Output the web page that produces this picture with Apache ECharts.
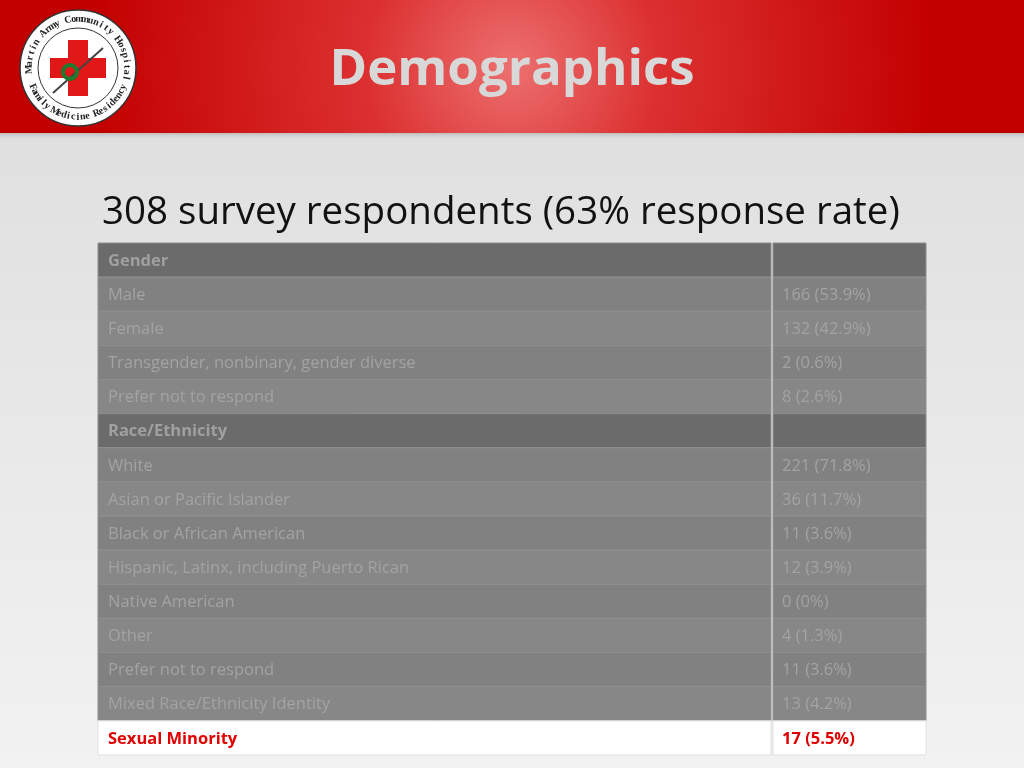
<!DOCTYPE html>
<html><head><meta charset="utf-8">
<script src="https://cdn.jsdelivr.net/npm/echarts@6/dist/echarts.min.js"></script>
<style>html,body{margin:0;padding:0;}#main{width:1024px;height:768px;}</style>
</head><body><div id="main"></div>
<script>
var title = 'Demographics';
var subtitle = '308 survey respondents (63% response rate)';
var sections = ['Gender', 'Race/Ethnicity'];
var genderLabels = ['Male', 'Female', 'Transgender, nonbinary, gender diverse', 'Prefer not to respond'];
var genderValues = ['166 (53.9%)', '132 (42.9%)', '2 (0.6%)', '8 (2.6%)'];
var raceLabels = ['White', 'Asian or Pacific Islander', 'Black or African American', 'Hispanic, Latinx, including Puerto Rican', 'Native American', 'Other', 'Prefer not to respond', 'Mixed Race/Ethnicity Identity'];
var raceValues = ['221 (71.8%)', '36 (11.7%)', '11 (3.6%)', '12 (3.9%)', '0 (0%)', '4 (1.3%)', '11 (3.6%)', '13 (4.2%)'];
var footLabel = 'Sexual Minority';
var footValue = '17 (5.5%)';

var chart = echarts.init(document.getElementById('main'));
var els = [];
// background
els.push({type:'rect', shape:{x:0,y:0,width:1024,height:768}, style:{fill:new echarts.graphic.LinearGradient(0,0,0,1,[{offset:0,color:'#dcdcdc'},{offset:1,color:'#f2f2f2'}])}});
els.push({type:'rect', shape:{x:0,y:130,width:1024,height:10}, style:{fill:new echarts.graphic.LinearGradient(0,0,0,1,[{offset:0,color:'#9a9a9a'},{offset:1,color:'rgba(220,220,220,0)'}])}});
els.push({type:'rect', shape:{x:0,y:0,width:1024,height:133}, style:{fill:new echarts.graphic.RadialGradient(512,66,420,[{offset:0,color:'#ec7070'},{offset:0.35,color:'#dc3030'},{offset:1,color:'#c30000'}],true)}});
els.push({type:'text', x:512, y:70, style:{text:title, fill:'#d8d8d8', font:'bold 51px "Open Sans"', align:'center', verticalAlign:'middle'}});
// logo
var cx = 78, cy = 68;
els.push({type:'circle', shape:{cx:cx,cy:cy,r:58}, style:{fill:'#fff', stroke:'#333', lineWidth:1.5}});
els.push({type:'circle', shape:{cx:cx,cy:cy,r:40}, style:{fill:'#fff', stroke:'#333', lineWidth:1}});
els.push({type:'rect', shape:{x:cx-10,y:cy-28,width:20,height:56}, style:{fill:'#e01818'}});
els.push({type:'rect', shape:{x:cx-28,y:cy-10,width:56,height:20}, style:{fill:'#e01818'}});
els.push({type:'line', shape:{x1:cx-25,y1:cy+25,x2:cx+25,y2:cy-20}, style:{stroke:'#444', lineWidth:2}});
els.push({type:'circle', shape:{cx:cx-8,cy:cy+4,r:7}, style:{fill:'none', stroke:'#1f7a2e', lineWidth:4}});
function arcText(str, r, a0, a1, top) {
  for (var i = 0; i < str.length; i++) {
    var a = a0 + (a1 - a0) * (i + 0.5) / str.length;
    var rad = a * Math.PI / 180;
    els.push({type:'text', x:cx + r*Math.cos(rad), y:cy + r*Math.sin(rad), rotation:-(a + (top ? 90 : -90)) * Math.PI / 180,
      style:{text:str[i], fill:'#222', font:'bold 10px "Liberation Serif"', align:'center', verticalAlign:'middle'}});
  }
}
arcText('Martin Army Community Hospital', 49, 175, 375, true);
arcText('Family Medicine Residency', 49, 160, 20, false);

els.push({type:'text', x:102, y:213, style:{text:subtitle, fill:'#111', font:'38.5px "Open Sans"', verticalAlign:'middle'}});

// table
var left = 98, right = 926, split = 771, top0 = 243, rh = 34.13;
var rows = [{h:true, l:sections[0], v:''}];
genderLabels.forEach(function(l, i){ rows.push({l:l, v:genderValues[i]}); });
rows.push({h:true, l:sections[1], v:''});
raceLabels.forEach(function(l, i){ rows.push({l:l, v:raceValues[i]}); });
rows.push({f:true, l:footLabel, v:footValue});
var k = 0;
rows.forEach(function(r, i) {
  var y = top0 + i * rh;
  var fill = r.h ? '#6b6b6b' : r.f ? '#ffffff' : (k++ % 2 ? '#878787' : '#818181');
  els.push({type:'rect', shape:{x:left,y:y,width:split-left,height:rh}, style:{fill:fill, stroke:r.f ? '#e0e0e0' : '#8f8f8f', lineWidth:1}});
  els.push({type:'rect', shape:{x:split+2,y:y,width:right-split-2,height:rh}, style:{fill:fill, stroke:r.f ? '#e0e0e0' : '#8f8f8f', lineWidth:1}});
  var font = (r.h || r.f ? 'bold ' : '') + '16.5px "Open Sans"';
  var col = r.f ? '#e00000' : r.h ? '#a0a0a0' : '#a3a3a3';
  els.push({type:'text', x:108, y:y+rh/2+1, style:{text:r.l, fill:col, font:font, verticalAlign:'middle'}});
  els.push({type:'text', x:782, y:y+rh/2+1, style:{text:r.v, fill:col, font:font, verticalAlign:'middle'}});
});

chart.setOption({animation:false, graphic:{elements:els}});
</script></body></html>
